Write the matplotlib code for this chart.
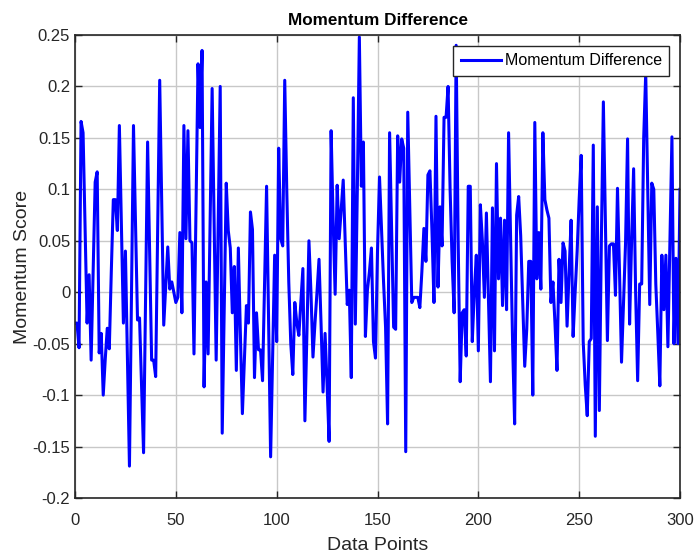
import matplotlib
matplotlib.use("Agg")
import matplotlib.pyplot as plt
import numpy as np

plt.rcParams['font.family'] = ['Liberation Sans', 'DejaVu Sans']

momentum_diff = [
    -0.03, -0.03, -0.054, 0.166, 0.155, 0.06, -0.03, 0.017, -0.066, 0.02,
    0.107, 0.117, -0.059, -0.04, -0.1, -0.065, -0.035, -0.055, 0.02, 0.09,
    0.09, 0.06, 0.162, 0.065, -0.03, 0.04, -0.065, -0.169, -0.005, 0.162,
    0.065, -0.027, -0.025, -0.09, -0.156, -0.005, 0.146, 0.04, -0.066, -0.066,
    -0.082, 0.06, 0.206, 0.09, -0.032, 0.005, 0.044, 0.003, 0.01, 0.0,
    -0.01, -0.005, 0.058, -0.02, 0.162, 0.052, 0.157, 0.05, 0.048, -0.06,
    0.08, 0.222, 0.16, 0.235, -0.092, 0.01, -0.06, 0.07, 0.198, 0.065,
    -0.066, 0.07, 0.2, -0.137, -0.015, 0.106, 0.06, 0.043, -0.02, 0.025,
    -0.076, 0.043, -0.04, -0.118, -0.065, -0.013, -0.03, 0.078, 0.061, -0.083,
    -0.02, -0.056, -0.056, -0.086, 0.01, 0.103, -0.03, -0.16, -0.06, 0.036,
    -0.048, 0.14, 0.052, 0.045, 0.206, 0.1, 0.01, -0.05, -0.08, -0.01,
    -0.03, -0.042, -0.01, 0.023, -0.125, -0.04, 0.05, 0.0, -0.063, -0.03,
    0.0, 0.032, -0.03, -0.097, -0.04, -0.09, -0.145, 0.157, 0.07, -0.002,
    0.104, 0.052, 0.08, 0.109, 0.05, -0.012, 0.002, -0.083, 0.189, -0.031,
    0.1, 0.248, 0.103, 0.146, -0.043, 0.002, 0.02, 0.043, -0.048, -0.064,
    0.04, 0.112, 0.06, 0.01, -0.034, -0.128, 0.155, 0.06, -0.034, -0.036,
    0.152, 0.107, 0.149, 0.14, -0.155, 0.175, 0.08, -0.01, -0.005, -0.005,
    -0.005, -0.015, 0.02, 0.062, 0.03, 0.114, 0.118, 0.06, -0.01, 0.171,
    0.005, 0.083, 0.045, 0.17, 0.17, 0.2, 0.1, 0.03, -0.02, 0.24,
    0.05, -0.087, -0.02, -0.017, -0.062, 0.103, 0.103, -0.048, 0.0, 0.036,
    -0.057, 0.085, 0.05, -0.005, 0.077, -0.005, -0.087, 0.082, -0.057, 0.125,
    0.013, 0.072, -0.013, 0.07, -0.017, 0.155, 0.05, -0.05, -0.128, 0.075,
    0.093, 0.055, -0.01, -0.072, -0.036, 0.03, 0.03, -0.1, 0.165, 0.013,
    0.058, 0.003, 0.155, 0.09, 0.08, 0.072, -0.01, 0.01, -0.03, -0.076,
    0.032, -0.01, 0.048, 0.04, -0.033, 0.02, 0.07, -0.043, 0.0, 0.04,
    0.09, 0.133, -0.048, -0.09, -0.12, -0.048, -0.045, 0.143, -0.14, 0.083,
    -0.115, 0.05, 0.185, 0.07, -0.047, 0.045, 0.047, 0.047, -0.003, 0.101,
    0.02, -0.068, -0.01, 0.048, 0.149, -0.031, 0.05, 0.12, 0.0, -0.086,
    0.008, 0.008, 0.15, 0.213, 0.1, -0.012, 0.106, 0.1, 0.008, -0.04,
    -0.091, 0.036, -0.017, 0.036, -0.053, 0.05, 0.151, -0.05, 0.033, -0.05,
    0.1,
]
data_points = list(range(len(momentum_diff)))

x_ticks = [0, 50, 100, 150, 200, 250, 300]
y_ticks = [-0.2, -0.15, -0.1, -0.05, 0, 0.05, 0.1, 0.15, 0.2, 0.25]
y_tick_labels = ['-0.2', '-0.15', '-0.1', '-0.05', '0', '0.05', '0.1', '0.15', '0.2', '0.25']

fig = plt.figure(figsize=(6.95, 5.54), dpi=100)
ax = fig.add_axes([75/695, 56/554, 605/695, 463/554])

ax.plot(data_points, momentum_diff, color='#0000FF', linewidth=2.2, label='Momentum Difference')

ax.set_xlim(0, 300)
ax.set_ylim(-0.2, 0.25)
ax.set_xticks(x_ticks)
ax.set_yticks(y_ticks)
ax.set_yticklabels(y_tick_labels)

ax.grid(True, color='#c8c8c8', linewidth=1.0)
ax.set_axisbelow(True)
ax.tick_params(direction='in', top=True, right=True, length=5, width=1,
               labelsize=12, colors='#262626', labelcolor='#262626')
ax.tick_params(axis='x', pad=11)
for s in ax.spines.values():
    s.set_color('#262626')
    s.set_linewidth(1.2)

ax.set_xlabel('Data Points', fontsize=14, color='#262626', labelpad=6)
ax.set_ylabel('Momentum Score', fontsize=14, color='#262626', labelpad=1)
ax.set_title('Momentum Difference', fontsize=12.3, fontweight='bold', color='black', pad=7)

leg = ax.legend(loc='upper right', fontsize=11.5, frameon=True, fancybox=False,
                edgecolor='#262626', framealpha=1, handlelength=2.5,
                handletextpad=0.25, borderaxespad=0.7, borderpad=0.45)
leg.get_frame().set_linewidth(1.0)

fig.savefig('out.png', dpi=100)
